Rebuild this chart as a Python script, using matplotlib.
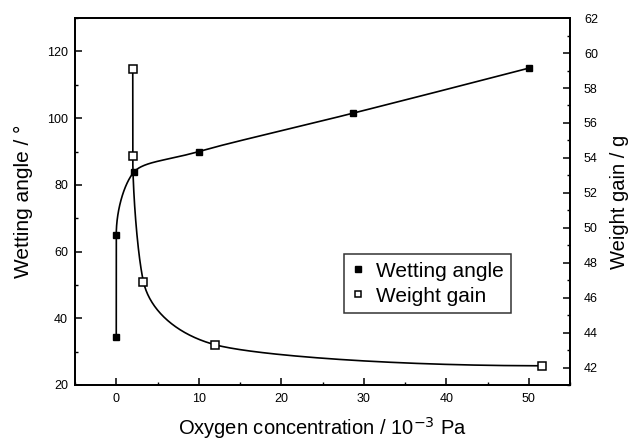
import numpy as np
import matplotlib
matplotlib.use("Agg")
import matplotlib.pyplot as plt
from matplotlib.ticker import MultipleLocator

plt.rcParams['font.family'] = ['Liberation Sans', 'DejaVu Sans']

# data
oxygen_wet = [0, 0, 2.2, 10, 28.7, 50]
wetting_angle = [34.5, 65, 84, 90, 101.5, 115]

oxygen_gain = [2.0, 2.0, 3.3, 12, 51.6]
weight_gain = [59.1, 54.1, 46.9, 43.3, 42.1]


def pchip_slopes(s, v):
    """Fritsch-Carlson slopes (same rules as scipy's PCHIP)"""
    h = np.diff(s)
    delta = np.diff(v) / h
    d = np.zeros_like(v)
    for k in range(1, len(v) - 1):
        if delta[k - 1] * delta[k] <= 0:
            d[k] = 0.0
        else:
            w1 = 2 * h[k] + h[k - 1]
            w2 = h[k] + 2 * h[k - 1]
            d[k] = (w1 + w2) / (w1 / delta[k - 1] + w2 / delta[k])

    def end(h0, h1, d0, d1):
        m = ((2 * h0 + h1) * d0 - h0 * d1) / (h0 + h1)
        if np.sign(m) != np.sign(d0):
            m = 0.0
        elif np.sign(d0) != np.sign(d1) and abs(m) > abs(3 * d0):
            m = 3 * d0
        return m

    d[0] = end(h[0], h[1], delta[0], delta[1])
    d[-1] = end(h[-1], h[-2], delta[-1], delta[-2])
    return d


def pchip_eval(s, v, d, n=60):
    out = []
    for k in range(len(s) - 1):
        hk = s[k + 1] - s[k]
        t = np.linspace(0, 1, n)
        h00 = 2 * t**3 - 3 * t**2 + 1
        h10 = t**3 - 2 * t**2 + t
        h01 = -2 * t**3 + 3 * t**2
        h11 = t**3 - t**2
        out.append(h00 * v[k] + h10 * hk * d[k] + h01 * v[k + 1] + h11 * hk * d[k + 1])
    return np.concatenate(out)


def smooth_curve(axis, x, y):
    # monotone cubic in x and y separately (screen coords), uniform parameter
    disp = axis.transData.transform(np.column_stack([x, y]))
    s = np.arange(len(disp), dtype=float)
    px = pchip_eval(s, disp[:, 0], pchip_slopes(s, disp[:, 0]))
    py = pchip_eval(s, disp[:, 1], pchip_slopes(s, disp[:, 1]))
    return axis.transData.inverted().transform(np.column_stack([px, py]))


fig = plt.figure(figsize=(6.33, 4.42), dpi=100)
ax = fig.add_axes([0.1185, 0.129, 0.782, 0.83])
ax2 = ax.twinx()

ax.set_xlim(-5, 55)
ax.set_ylim(20, 130)
ax2.set_ylim(41, 62)

c1 = smooth_curve(ax, oxygen_wet, wetting_angle)
ax.plot(c1[:, 0], c1[:, 1], color='black', lw=1.2)
h1, = ax.plot(oxygen_wet, wetting_angle, 's', color='black', ms=5,
              label='Wetting angle')

c2 = smooth_curve(ax2, oxygen_gain, weight_gain)
ax2.plot(c2[:, 0], c2[:, 1], color='black', lw=1.2)
h2, = ax2.plot(oxygen_gain, weight_gain, 's', mfc='white', mec='black',
               mew=1.1, ms=5.5, label='Weight gain')

# ticks
ax.xaxis.set_major_locator(MultipleLocator(10))
ax.xaxis.set_minor_locator(MultipleLocator(5))
ax.yaxis.set_minor_locator(MultipleLocator(10))
ax.set_yticks([20, 40, 60, 80, 100, 120])
ax2.yaxis.set_minor_locator(MultipleLocator(1))
ax2.set_yticks(range(42, 63, 2))

for a in (ax, ax2):
    a.tick_params(which='major', direction='in', length=5, width=1.1,
                  labelsize=9)
    a.tick_params(which='minor', direction='in', length=2.5, width=1)
    for s in a.spines.values():
        s.set_linewidth(1.3)
ax.tick_params(axis='x', pad=6)
ax.tick_params(axis='y', pad=5)
ax2.tick_params(axis='y', pad=10)

ax.set_xlabel('Oxygen concentration / 10$^{-3}$ Pa', fontsize=14.5, labelpad=7)
ax.set_ylabel('Wetting angle / °', fontsize=15, labelpad=10)
ax2.set_ylabel('Weight gain / g', fontsize=14.5, labelpad=9)

leg = ax2.legend(handles=[h1, h2], loc='lower left',
                 bbox_to_anchor=(0.543, 0.196), borderaxespad=0, fontsize=15,
                 frameon=True, fancybox=False, edgecolor='black',
                 handlelength=0.7, handletextpad=0.5, borderpad=0.35,
                 labelspacing=0.3, markerscale=0.9)
leg.get_frame().set_linewidth(1.1)

fig.savefig('out.png', dpi=100)
